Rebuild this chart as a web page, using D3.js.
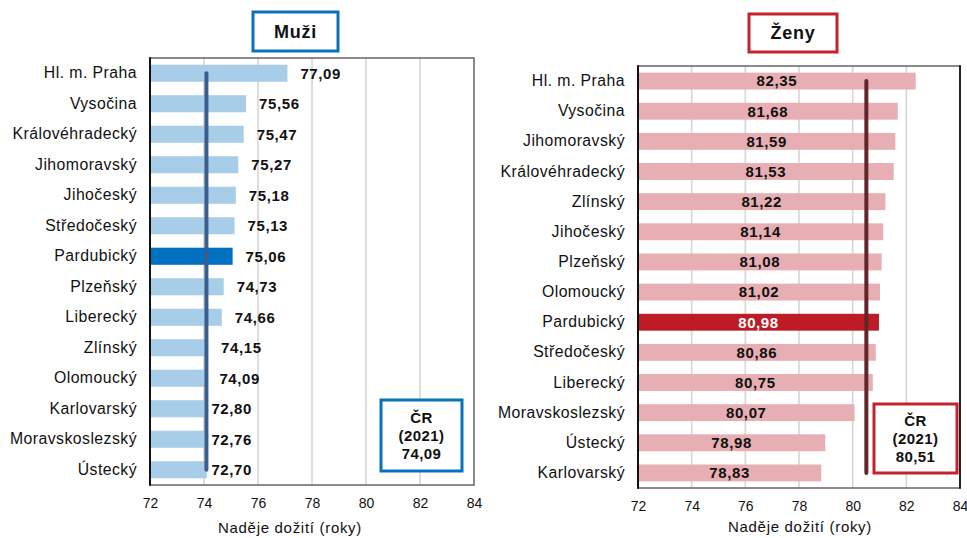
<!DOCTYPE html>
<html>
<head>
<meta charset="utf-8">
<script src="https://cdn.jsdelivr.net/npm/d3@7/dist/d3.min.js"></script>
<style>
  html, body { margin: 0; padding: 0; background: #fff; }
  svg { display: block; font-family: "Liberation Sans", Arial, sans-serif; }
</style>
</head>
<body>
<svg id="chart" width="967" height="538"></svg>
<script>
// ---------- data ----------
const menCategories = ["Hl. m. Praha", "Vysočina", "Královéhradecký", "Jihomoravský", "Jihočeský",
  "Středočeský", "Pardubický", "Plzeňský", "Liberecký", "Zlínský", "Olomoucký", "Karlovarský",
  "Moravskoslezský", "Ústecký"];
const menValues = [77.09, 75.56, 75.47, 75.27, 75.18, 75.13, 75.06, 74.73, 74.66, 74.15, 74.09, 72.80, 72.76, 72.70];
// bar lengths as drawn in the reference (the three lowest bars visibly reach ~74 there)
const menBarLengths = [77.09, 75.56, 75.47, 75.27, 75.18, 75.13, 75.06, 74.73, 74.66, 74.15, 74.09, 74.0, 74.0, 74.1];
const menAverage = 74.09;

const womenCategories = ["Hl. m. Praha", "Vysočina", "Jihomoravský", "Královéhradecký", "Zlínský",
  "Jihočeský", "Plzeňský", "Olomoucký", "Pardubický", "Středočeský", "Liberecký", "Moravskoslezský",
  "Ústecký", "Karlovarský"];
const womenValues = [82.35, 81.68, 81.59, 81.53, 81.22, 81.14, 81.08, 81.02, 80.98, 80.86, 80.75, 80.07, 78.98, 78.83];
const womenAverage = 80.51;

const xTicks = [72, 74, 76, 78, 80, 82, 84];
const highlighted = "Pardubický";
const axisTitle = "Naděje dožití (roky)";
const avgBoxLines = ["ČR", "(2021)"];

// ---------- helpers ----------
const cz = d3.formatLocale({decimal: ",", thousands: " ", grouping: [3], currency: ["", " Kč"]});
const fmt = cz.format(".2f");
const svg = d3.select("#chart");

function panel(cfg) {
  const g = svg.append("g");
  const x = d3.scaleLinear().domain([72, 84]).range([cfg.left, cfg.right]);
  const y = d3.scaleBand().domain(cfg.categories).range([cfg.top, cfg.bottom])
    .paddingInner(0.44).paddingOuter(0.22);

  // gridlines
  g.append("g").selectAll("line").data(xTicks.slice(1, -1)).join("line")
    .attr("x1", d => x(d)).attr("x2", d => x(d))
    .attr("y1", cfg.top).attr("y2", cfg.bottom)
    .attr("stroke", "#d6d6d6").attr("stroke-width", 1.6);

  // bars
  g.append("g").selectAll("rect").data(cfg.categories).join("rect")
    .attr("x", x(72))
    .attr("y", d => y(d))
    .attr("width", (d, i) => x(cfg.barLengths[i]) - x(72))
    .attr("height", y.bandwidth())
    .attr("fill", d => d === highlighted ? cfg.hiColor : cfg.barColor);

  // frame
  g.append("rect").attr("x", cfg.left).attr("y", cfg.top)
    .attr("width", cfg.right - cfg.left).attr("height", cfg.bottom - cfg.top)
    .attr("fill", "none").attr("stroke", "#5a5a5a").attr("stroke-width", 1.4);
  g.append("line").attr("x1", cfg.left).attr("x2", cfg.left)
    .attr("y1", cfg.top - 0.7).attr("y2", cfg.bottom + 0.7)
    .attr("stroke", "#111").attr("stroke-width", 2);
  if (cfg.darkRight) {
    g.append("line").attr("x1", cfg.right).attr("x2", cfg.right)
      .attr("y1", cfg.top - 0.7).attr("y2", cfg.bottom + 0.7)
      .attr("stroke", "#222").attr("stroke-width", 2);
  }

  // average line
  const first = cfg.categories[0], last = cfg.categories[cfg.categories.length - 1];
  g.append("line")
    .attr("x1", x(cfg.average)).attr("x2", x(cfg.average))
    .attr("y1", y(first) + y.bandwidth() / 2).attr("y2", y(last) + y.bandwidth() / 2)
    .attr("stroke", cfg.avgColor).attr("stroke-width", 4).attr("stroke-linecap", "round");

  // value labels
  g.append("g").selectAll("text").data(cfg.categories).join("text")
    .attr("x", (d, i) => cfg.labelX(x, i))
    .attr("y", d => y(d) + y.bandwidth() / 2)
    .attr("dy", "0.36em")
    .attr("text-anchor", cfg.labelAnchor)
    .attr("font-size", 15).attr("font-weight", "bold").attr("letter-spacing", 0.6)
    .attr("fill", d => (cfg.whiteOnHi && d === highlighted) ? "#fff" : "#111")
    .text((d, i) => fmt(cfg.values[i]));

  // category labels
  const yAxis = d3.axisLeft(y).tickSize(0).tickPadding(0);
  const ya = g.append("g").attr("transform", `translate(${cfg.catX},0)`).call(yAxis);
  ya.select(".domain").remove();
  ya.selectAll("text").attr("font-size", 15.8).attr("letter-spacing", 0.45)
    .attr("fill", "#111").attr("font-family", "Liberation Sans, Arial, sans-serif");

  // x axis tick labels
  const xAxis = d3.axisBottom(x).tickValues(xTicks).tickSize(0).tickPadding(0).tickFormat(d3.format("d"));
  const xa = g.append("g").attr("transform", `translate(0,${cfg.tickY})`).call(xAxis);
  xa.select(".domain").remove();
  xa.selectAll("text").attr("font-size", 14).attr("fill", "#111").attr("dy", "0.35em")
    .attr("font-family", "Liberation Sans, Arial, sans-serif");

  // axis title
  g.append("text").attr("x", cfg.axisTitleX).attr("y", cfg.axisTitleY).attr("dy", "0.35em")
    .attr("text-anchor", "middle").attr("font-size", 15).attr("letter-spacing", 0.7)
    .attr("fill", "#111").text(axisTitle);

  // title box
  g.append("rect").attr("x", cfg.titleBox[0]).attr("y", cfg.titleBox[1])
    .attr("width", cfg.titleBox[2]).attr("height", cfg.titleBox[3])
    .attr("fill", "#fff").attr("stroke", cfg.boxColor).attr("stroke-width", 3);
  g.append("text").attr("x", cfg.titleBox[0] + cfg.titleBox[2] / 2)
    .attr("y", cfg.titleBox[1] + cfg.titleBox[3] / 2).attr("dy", "0.36em")
    .attr("text-anchor", "middle").attr("font-size", 18).attr("font-weight", "bold")
    .attr("letter-spacing", 0.8).attr("fill", "#111").text(cfg.title);

  // average box
  const b = cfg.avgBox;
  g.append("rect").attr("x", b[0]).attr("y", b[1]).attr("width", b[2]).attr("height", b[3])
    .attr("fill", "#fff").attr("stroke", cfg.boxColor).attr("stroke-width", 3);
  const lines = avgBoxLines.concat([fmt(cfg.average)]);
  g.append("g").selectAll("text").data(lines).join("text")
    .attr("x", b[0] + b[2] / 2)
    .attr("y", (d, i) => b[1] + b[3] / 2 + (i - 1) * 18)
    .attr("dy", "0.36em").attr("text-anchor", "middle")
    .attr("font-size", 15).attr("font-weight", "bold").attr("letter-spacing", 0.4)
    .attr("fill", "#111").text(d => d);
}

// Muži
panel({
  categories: menCategories, values: menValues, barLengths: menBarLengths, average: menAverage,
  left: 150, right: 474, top: 58, bottom: 485,
  barColor: "#a8cde8", hiColor: "#0070c0", avgColor: "#3a5f8f", boxColor: "#0a72bd",
  labelAnchor: "start",
  labelX: (x, i) => menValues[i] >= menAverage ? x(menValues[i]) + 13 : x(menAverage) + 5,
  whiteOnHi: false, darkRight: false,
  catX: 137, tickY: 503, axisTitleX: 290, axisTitleY: 528,
  title: "Muži", titleBox: [253, 12, 85, 39], avgBox: [381, 400, 81, 71]
});

// Ženy
panel({
  categories: womenCategories, values: womenValues, barLengths: womenValues, average: womenAverage,
  left: 638, right: 960, top: 66, bottom: 488,
  barColor: "#e7afb3", hiColor: "#be1c24", avgColor: "#62252a", boxColor: "#c3232d",
  labelAnchor: "middle",
  labelX: (x, i) => (x(72) + x(womenValues[i])) / 2,
  whiteOnHi: true, darkRight: true,
  catX: 625, tickY: 506, axisTitleX: 800, axisTitleY: 527,
  title: "Ženy", titleBox: [749, 14, 88, 38], avgBox: [874, 404, 83, 69]
});
</script>
</body>
</html>
